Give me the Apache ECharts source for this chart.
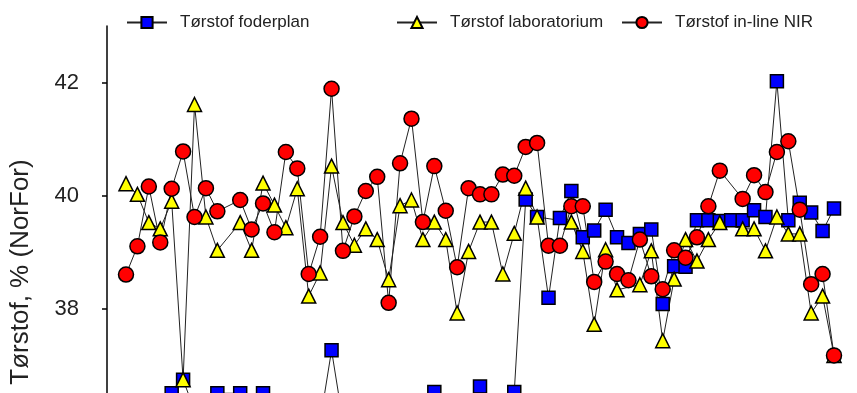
<!DOCTYPE html>
<html>
<head>
<meta charset="utf-8">
<script src="https://cdn.jsdelivr.net/npm/echarts@6/dist/echarts.min.js"></script>
<style>
  html, body { margin: 0; padding: 0; background: #fff; }
  #chart { width: 857px; height: 393px; }
</style>
</head>
<body>
<div id="chart"></div>
<script>
// prøvenumre (x-aksen ligger under billedkanten)
const samples = [
  1, 2, 3, 4, 5, 6, 7, 8, 9, 10, 11, 12, 13, 14, 15, 16, 17, 18, 19, 20, 21,
  22, 23, 24, 25, 26, 27, 28, 29, 30, 31, 32, 33, 34, 35, 36, 37, 38, 39, 40, 41, 42,
  43, 44, 45, 46, 47, 48, 49, 50, 51, 52, 53, 54, 55, 56, 57, 58, 59, 60, 61, 62, 63
]

const foderplan = [
  36.0, 36.0, 36.1, 36.2, 36.5, 36.74, 36.2, 36.1, 36.5, null, 36.5, 36.2, 36.5, 36.2, 36.0, 36.0, 36.1, 36.0, 37.26, 36.0, 36.1,
  36.0, 36.1, 36.0, 36.2, 36.1, 36.0, 36.52, 36.2, 36.1, 36.2, 36.62, 36.2, 36.1, 36.52, 39.93, 39.62, 38.19, 39.60, 40.08, 39.26, 39.38,
  39.75, 39.26, 39.16, 39.32, 39.40, 38.08, 38.75, 38.74, 39.56, 39.56, 39.55, 39.56, 39.56, 39.74, 39.62, 42.02, 39.56, 39.87, 39.70, 39.37, 39.77
]

const laboratorium = [
  40.21, 40.02, 39.52, 39.41, 39.90, 36.74, 41.61, 39.62, 39.03, null, 39.52, 39.03, 40.22, 39.83, 39.43, 40.12, 38.22, 38.63, 40.52, 39.52, 39.12,
  39.41, 39.22, 38.51, 39.82, 39.92, 39.22, 39.53, 39.22, 37.92, 39.01, 39.53, 39.53, 38.61, 39.33, 40.13, 39.62, null, null, 39.53, 39.01, 37.72,
  39.04, 38.33, null, 38.42, 39.02, 37.43, 38.52, 39.22, 38.84, 39.22, 39.52, null, 39.41, 39.41, 39.02, 39.62, 39.32, 39.32, 37.92, 38.22, 37.17
]

const inlineNIR = [
  38.60, 39.10, 40.16, 39.17, 40.12, 40.78, 39.62, 40.13, 39.72, null, 39.92, 39.40, 39.86, 39.35, 40.77, 40.48, 38.61, 39.27, 41.89, 39.02, 39.63,
  40.08, 40.33, 38.10, 40.57, 41.36, 39.53, 40.52, 39.73, 38.73, 40.13, 40.02, 40.02, 40.37, 40.35, 40.86, 40.93, 39.11, 39.11, 39.81, 39.81, 38.47,
  38.83, 38.61, 38.50, 39.22, 38.57, 38.34, 39.03, 38.90, 39.26, 39.81, 40.44, null, 39.94, 40.36, 40.06, 40.77, 40.96, 39.75, 38.43, 38.61, 37.17
]

const yTicks = [34, 36, 38, 40, 42]

const chart = echarts.init(document.getElementById('chart'))

const font = 'Liberation Sans, Arial, sans-serif'

const legendBase = {
  top: 9,
  itemWidth: 40,
  itemHeight: 14,
  textStyle: { fontFamily: font, fontSize: 17, color: '#222', padding: [0, 0, 0, 8] }
}

const lineSeries = (name, data, symbol, size, color) => ({
  name: name,
  type: 'line',
  data: data,
  connectNulls: true,
  symbol: symbol,
  symbolSize: size,
  showAllSymbol: true,
  lineStyle: { color: '#222', width: 1 },
  itemStyle: { color: color, borderColor: '#000', borderWidth: 1.5 },
  emphasis: { disabled: true },
  animation: false
})

const option = {
  backgroundColor: '#fff',
  legend: [
    Object.assign({ left: 121, data: ['Tørstof foderplan'] }, legendBase),
    Object.assign({ left: 391, data: ['Tørstof laboratorium'] }, legendBase),
    Object.assign({ left: 616, data: ['Tørstof in-line NIR'] }, legendBase)
  ],
  graphic: [
    {
      type: 'text',
      x: 21,
      y: 272,
      rotation: Math.PI / 2,
      style: {
        text: 'Tørstof, % (NorFor)',
        font: '26px ' + font,
        fill: '#222',
        align: 'center',
        verticalAlign: 'middle'
      }
    }
  ],
  grid: {
    left: 126,
    right: 23,
    top: 26,
    height: 508.5,
    containLabel: false,
    outerBoundsMode: 'none'
  },
  xAxis: {
    type: 'category',
    data: samples,
    boundaryGap: false,
    show: false
  },
  yAxis: {
    type: 'value',
    min: 34,
    max: 43,
    interval: 1,
    offset: 19,
    splitLine: { show: false },
    axisLine: { show: true, lineStyle: { color: '#000', width: 1.5 } },
    axisTick: { show: true, length: 5, customValues: yTicks, lineStyle: { color: '#000', width: 1.5 } },
    axisLabel: { customValues: yTicks, fontFamily: font, fontSize: 22, color: '#222', margin: 28 }
  },
  series: [
    lineSeries('Tørstof foderplan', foderplan, 'rect', 13, '#0000ff'),
    lineSeries('Tørstof laboratorium', laboratorium, 'triangle', 14, '#ffff00'),
    lineSeries('Tørstof in-line NIR', inlineNIR, 'circle', 15, '#ff0000')
  ]
}

chart.setOption(option)
</script>
</body>
</html>
